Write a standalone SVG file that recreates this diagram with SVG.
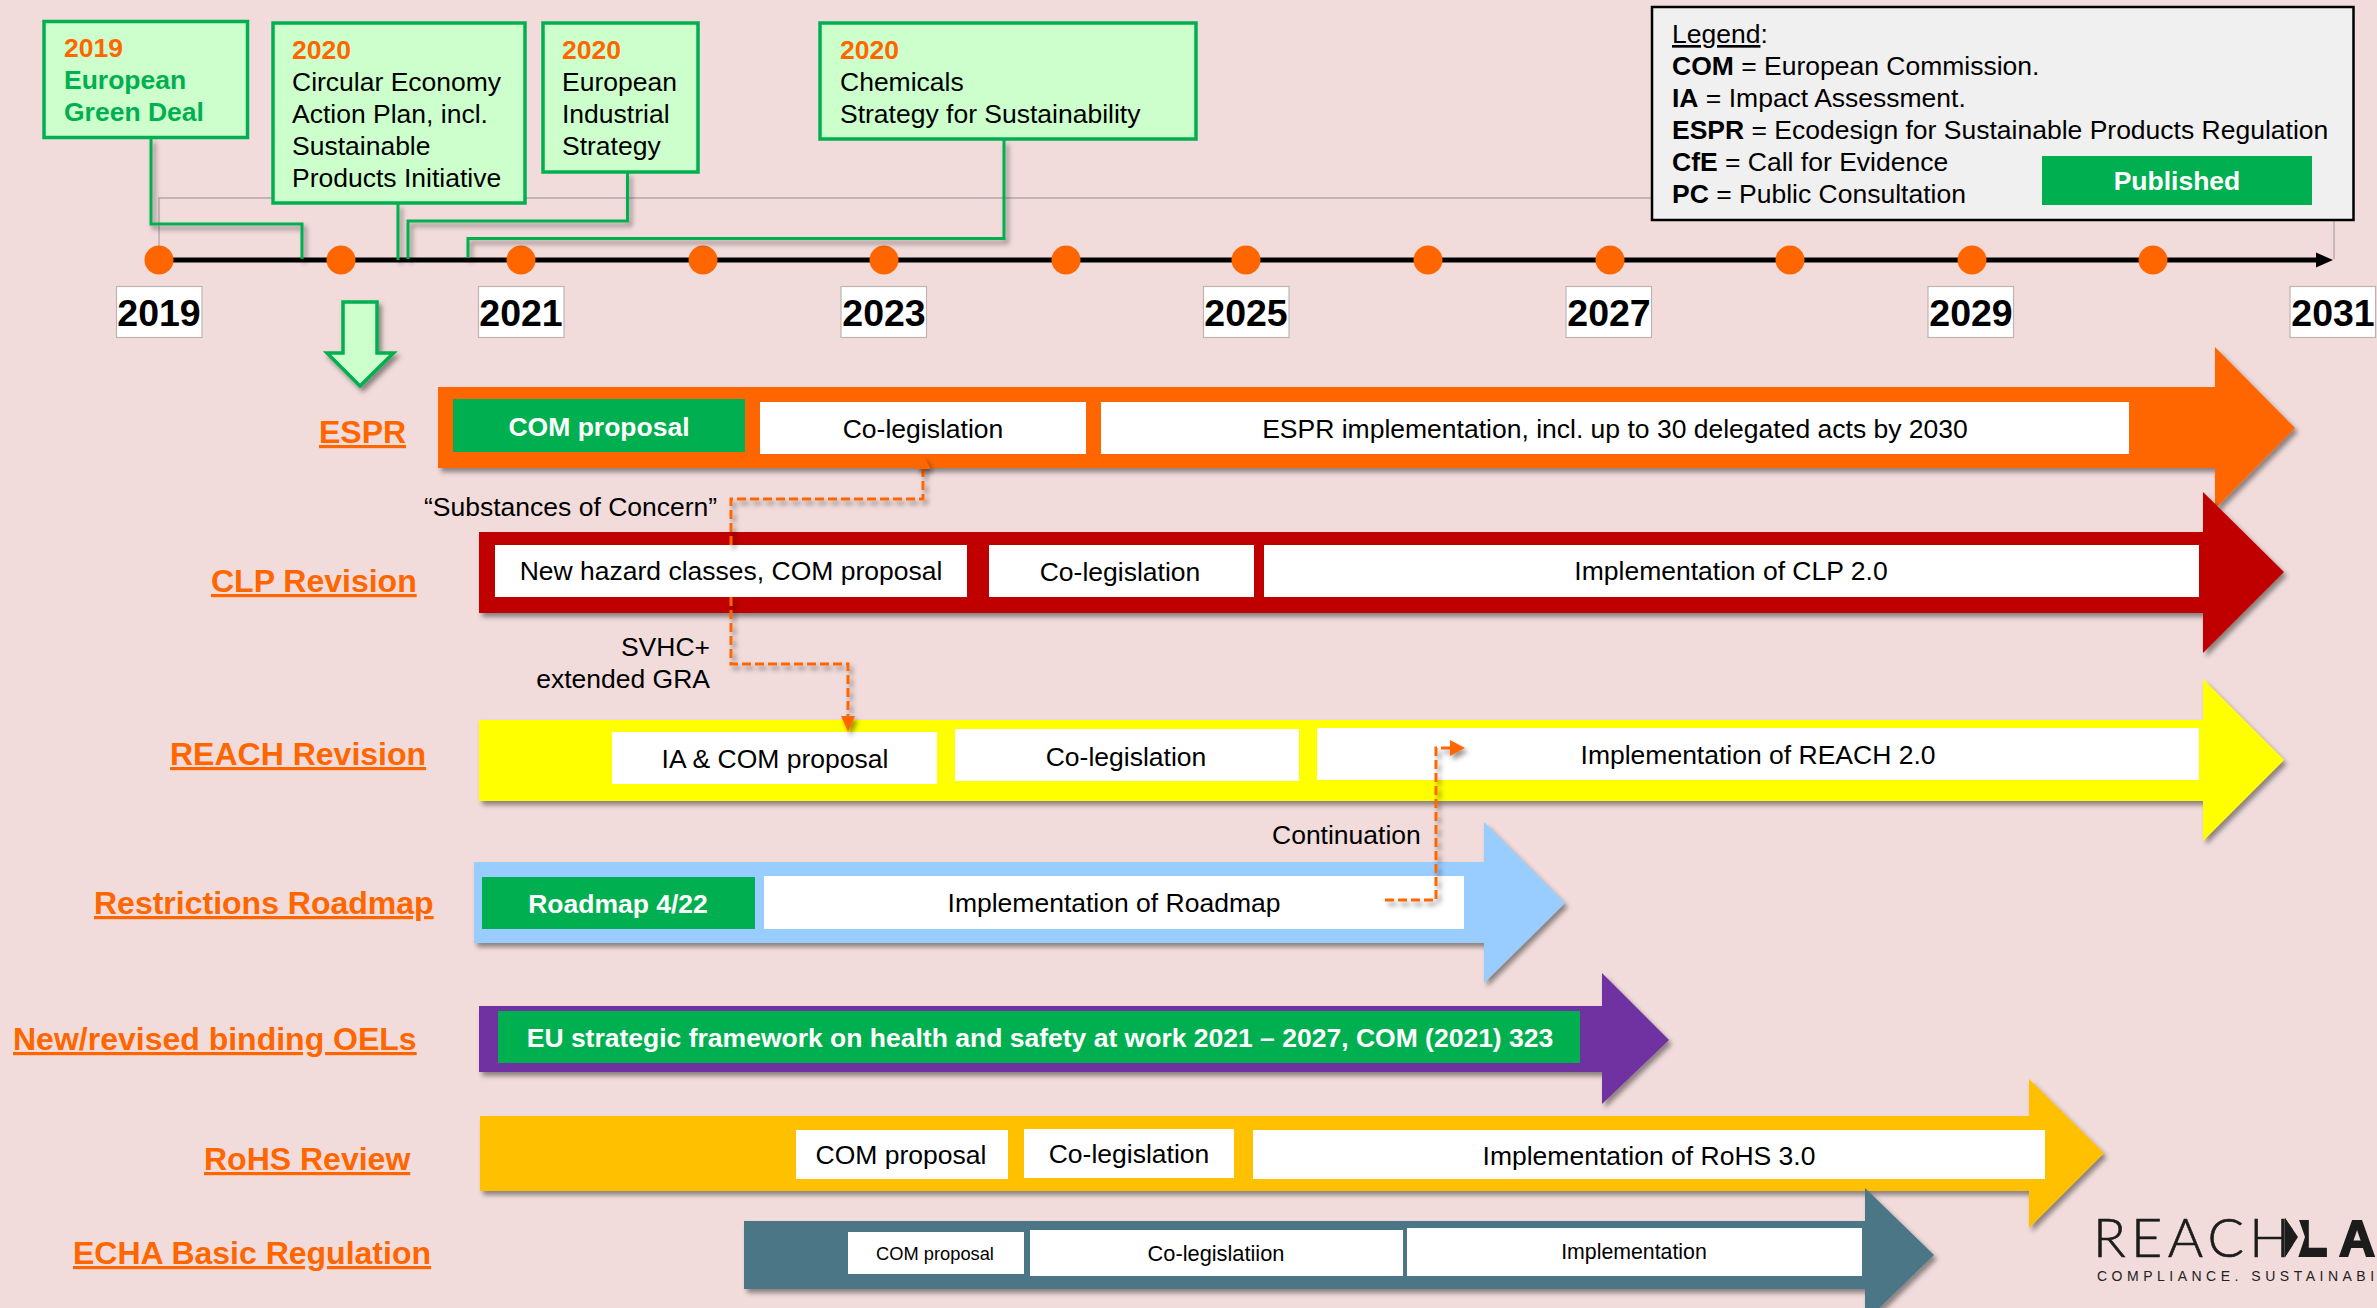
<svg xmlns="http://www.w3.org/2000/svg" width="2377" height="1308" viewBox="0 0 2377 1308">
<defs>
<filter id="sh" filterUnits="userSpaceOnUse" x="0" y="0" width="2377" height="1308"><feDropShadow dx="3" dy="4" stdDeviation="2.5" flood-color="#000" flood-opacity="0.42"/></filter>
</defs>
<style>
text{font-family:"Liberation Sans",Arial,sans-serif;font-size:26.500px;fill:#000}
.b{font-weight:bold}
.o{fill:#ff6600;font-weight:bold}
.gt{fill:#00b050;font-weight:bold}
.w{fill:#fff}
.wb{fill:#fff;font-weight:bold}
.m{text-anchor:middle}
.e{text-anchor:end}
.lab{fill:#ff6600;font-weight:bold;font-size:32px;text-decoration:underline}
.box{fill:#ccffcc;stroke:#00b050;stroke-width:3.5}
.yr{fill:#fff;stroke:#bfb4b4;stroke-width:1.2}
.yt{font-weight:bold;font-size:37.5px;text-anchor:middle}
.dot{fill:#ff6600}
.g{fill:#00b050}
.wr{fill:#fff}
.gl{fill:none;stroke:#00b050;stroke-width:3;filter:url(#sh)}
.dl{fill:none;stroke:#ff6600;stroke-width:3;stroke-dasharray:9 4;filter:url(#sh)}
</style>
<rect width="2377" height="1308" fill="#f1dcdb"/>

<g id="timeline">
<path d="M159 259V198H2334V259" fill="none" stroke="#b3a6a6" stroke-width="1.3"/>
<path d="M159 260H2320" stroke="#000" stroke-width="5"/>
<polygon points="2316,252.500 2333,260 2316,267.500" fill="#000"/>
<circle class="dot" cx="159" cy="260" r="14.500"/><circle class="dot" cx="341" cy="260" r="14.500"/><circle class="dot" cx="521" cy="260" r="14.500"/><circle class="dot" cx="703" cy="260" r="14.500"/><circle class="dot" cx="884" cy="260" r="14.500"/><circle class="dot" cx="1066" cy="260" r="14.500"/><circle class="dot" cx="1246" cy="260" r="14.500"/><circle class="dot" cx="1428" cy="260" r="14.500"/><circle class="dot" cx="1610" cy="260" r="14.500"/><circle class="dot" cx="1790" cy="260" r="14.500"/><circle class="dot" cx="1972" cy="260" r="14.500"/><circle class="dot" cx="2153" cy="260" r="14.500"/>
<rect class="yr" x="116.500" y="286.500" width="85.500" height="51"/><text class="yt" x="159" y="326">2019</text>
<rect class="yr" x="478.500" y="286.500" width="85.500" height="51"/><text class="yt" x="521" y="326">2021</text>
<rect class="yr" x="841" y="286.500" width="85.500" height="51"/><text class="yt" x="884" y="326">2023</text>
<rect class="yr" x="1203.500" y="286.500" width="85.500" height="51"/><text class="yt" x="1246" y="326">2025</text>
<rect class="yr" x="1566" y="286.500" width="85.500" height="51"/><text class="yt" x="1609" y="326">2027</text>
<rect class="yr" x="1928" y="286.500" width="85.500" height="51"/><text class="yt" x="1971" y="326">2029</text>
<rect class="yr" x="2290" y="286.500" width="85.500" height="51"/><text class="yt" x="2333" y="326">2031</text>
</g>

<g id="box-green-deal"><rect class="box" x="44" y="21.500" width="203.500" height="116"/>
<text class="o" x="64" y="57">2019</text><text class="gt" x="64" y="89">European</text><text class="gt" x="64" y="121">Green Deal</text></g>
<g id="box-circular"><rect class="box" x="273" y="23" width="252" height="180"/>
<text class="o" x="292" y="59">2020</text><text x="292" y="91">Circular Economy</text><text x="292" y="123">Action Plan, incl.</text><text x="292" y="155">Sustainable</text><text x="292" y="187">Products Initiative</text></g>
<g id="box-industrial"><rect class="box" x="543" y="23" width="155" height="149"/>
<text class="o" x="562" y="59">2020</text><text x="562" y="91">European</text><text x="562" y="123">Industrial</text><text x="562" y="155">Strategy</text></g>
<g id="box-chemicals"><rect class="box" x="820" y="23" width="376" height="116"/>
<text class="o" x="840" y="59">2020</text><text x="840" y="91">Chemicals</text><text x="840" y="123">Strategy for Sustainability</text></g>

<g id="down-arrow"><polygon points="343,302 377,302 377,353 393.500,353 360,386 327,353 343,353" fill="#ccffcc" stroke="#00b050" stroke-width="3.500" filter="url(#sh)"/></g>

<g id="legend">
<rect x="1652" y="7" width="701.500" height="213" fill="#f0f0f0" stroke="#000" stroke-width="2.500"/>
<text x="1672" y="43"><tspan text-decoration="underline">Legend</tspan>:</text>
<text x="1672" y="75"><tspan class="b">COM</tspan> = European Commission.</text>
<text x="1672" y="107"><tspan class="b">IA</tspan> = Impact Assessment.</text>
<text x="1672" y="139"><tspan class="b">ESPR</tspan> = Ecodesign for Sustainable Products Regulation</text>
<text x="1672" y="171"><tspan class="b">CfE</tspan> = Call for Evidence</text>
<text x="1672" y="203"><tspan class="b">PC</tspan> = Public Consultation</text>
<rect class="g" x="2042" y="156" width="270" height="49"/>
<text class="wb m" x="2177" y="190">Published</text>
</g>

<g id="espr">
<text class="lab" x="319" y="443">ESPR</text>
<polygon points="438,387 2215,387 2215,347 2295,428 2215,509 2215,468 438,468" fill="#ff6600" filter="url(#sh)"/>
<rect class="g" x="453" y="399" width="292" height="53"/><text class="wb m" x="599" y="436">COM proposal</text>
<rect class="wr" x="760" y="402" width="326" height="52"/><text class="m" x="923" y="438">Co-legislation</text>
<rect class="wr" x="1101" y="402" width="1028" height="52"/><text class="m" x="1615" y="438">ESPR implementation, incl. up to 30 delegated acts by 2030</text>
</g>

<g id="clp">
<text class="lab" x="211" y="592">CLP Revision</text>
<polygon points="479,532 2203,532 2203,492 2284,572 2203,653 2203,613 479,613" fill="#c00000" filter="url(#sh)"/>
<rect class="wr" x="495" y="545" width="472" height="52"/><text class="m" x="731" y="580">New hazard classes, COM proposal</text>
<rect class="wr" x="989" y="545" width="265" height="52"/><text class="m" x="1120" y="581">Co-legislation</text>
<rect class="wr" x="1264" y="545" width="935" height="52"/><text class="m" x="1731" y="580">Implementation of CLP 2.0</text>
</g>

<g id="reach">
<text class="lab" x="170" y="765">REACH Revision</text>
<polygon points="479,720 2203,720 2203,679 2284,760 2203,841 2203,801 479,801" fill="#ffff00" filter="url(#sh)"/>
<rect class="wr" x="612" y="732" width="325" height="52"/><text class="m" x="775" y="768">IA &amp; COM proposal</text>
<rect class="wr" x="955" y="729" width="344" height="52"/><text class="m" x="1126" y="766">Co-legislation</text>
<rect class="wr" x="1317" y="728" width="882" height="52"/><text class="m" x="1758" y="764">Implementation of REACH 2.0</text>
</g>

<g id="restrictions">
<text class="lab" x="94" y="914">Restrictions Roadmap</text>
<polygon points="474,862 1484,862 1484,822 1565,903 1484,983 1484,943 474,943" fill="#99ccff" filter="url(#sh)"/>
<rect class="g" x="482" y="877" width="273" height="52"/><text class="wb m" x="618" y="913">Roadmap 4/22</text>
<rect class="wr" x="764" y="876" width="700" height="53"/><text class="m" x="1114" y="912">Implementation of Roadmap</text>
</g>

<g id="oels">
<text class="lab" x="13" y="1050">New/revised binding OELs</text>
<polygon points="479,1006 1602,1006 1602,973 1669,1040 1602,1104 1602,1072 479,1072" fill="#7030a0" filter="url(#sh)"/>
<rect class="g" x="498" y="1011" width="1082" height="52"/><text class="wb m" x="1040" y="1047">EU strategic framework on health and safety at work 2021 – 2027, COM (2021) 323</text>
</g>

<g id="rohs">
<text class="lab" x="204" y="1170">RoHS Review</text>
<polygon points="480,1116 2029,1116 2029,1079 2104,1153 2029,1228 2029,1191 480,1191" fill="#ffc000" filter="url(#sh)"/>
<rect class="wr" x="796" y="1130" width="212" height="49"/><text class="m" x="901" y="1164">COM proposal</text>
<rect class="wr" x="1024" y="1129" width="210" height="49"/><text class="m" x="1129" y="1163">Co-legislation</text>
<rect class="wr" x="1253" y="1130" width="792" height="49"/><text class="m" x="1649" y="1165">Implementation of RoHS 3.0</text>
</g>

<g id="echa">
<text class="lab" x="73" y="1264">ECHA Basic Regulation</text>
<polygon points="744,1221 1865,1221 1865,1188 1934,1255 1865,1322 1865,1289 744,1289" fill="#4b7686" filter="url(#sh)"/>
<rect class="wr" x="848" y="1232" width="176" height="42"/><text class="m" style="font-size:18.300px" x="935" y="1260">COM proposal</text>
<rect class="wr" x="1030" y="1230" width="373" height="46"/><text class="m" style="font-size:21.800px" x="1216" y="1261">Co-legislatiion</text>
<rect class="wr" x="1407" y="1228" width="455" height="48"/><text class="m" style="font-size:21.300px" x="1634" y="1259">Implementation</text>
</g>

<g id="notes">
<text x="424" y="516">“Substances of Concern”</text>
<text class="e" x="710" y="656">SVHC+</text>
<text class="e" x="710" y="688">extended GRA</text>
<text x="1272" y="844">Continuation</text>
</g>

<g id="logo">
<text x="2093" y="1257" style="font-family:Lato,'Liberation Sans',sans-serif;font-weight:300;font-size:54px;fill:#1c1c1c;stroke:#1c1c1c;stroke-width:0.600" textLength="197" lengthAdjust="spacing">REACH</text>
<polygon points="2285,1218 2298,1237 2285,1257" fill="#1c1c1c"/>
<text x="2296.500" y="1255" style="font-weight:bold;font-size:49px;fill:#1c1c1c;stroke:#1c1c1c;stroke-width:4">L</text>
<polygon points="2293,1215 2298,1217 2305,1237 2298,1258 2293,1260" fill="#f1dcdb"/>
<polygon points="2285,1218 2298,1237 2285,1257" fill="#1c1c1c"/>
<text x="2339" y="1256" style="font-weight:bold;font-size:50px;fill:#1c1c1c;stroke:#1c1c1c;stroke-width:2">A</text>
<text x="2097" y="1281" style="font-size:14px;letter-spacing:4.500px;fill:#222">COMPLIANCE. SUSTAINABI</text>
</g>

<g id="connectors">
<path class="gl" d="M151 138V224H302V259"/>
<path class="gl" d="M398 204V260"/>
<path class="gl" d="M627.500 172V221H408V259"/>
<path class="gl" d="M1004 140V238.500H468V258"/>
<path class="dl" d="M923 468V499H731V545M731 597V664H848V716"/>
<polygon points="915.500,469 923,455 930.500,469" fill="#ff6600" filter="url(#sh)"/>
<polygon points="841,716 855,716 848,732" fill="#ff6600" filter="url(#sh)"/>
<path class="dl" d="M1385 900H1436V748H1452"/>
<polygon points="1450,740 1465,748 1450,756" fill="#ff6600" filter="url(#sh)"/>
</g>
</svg>
